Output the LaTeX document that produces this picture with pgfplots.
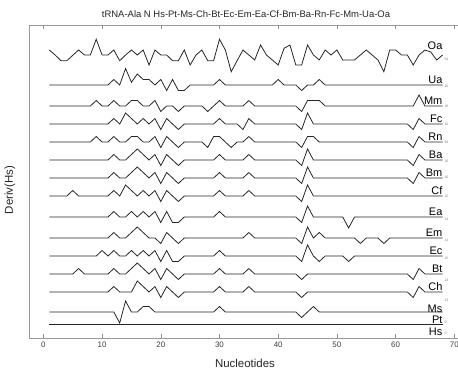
\documentclass[border=0pt]{standalone}
\usepackage{pgfplots}
\pgfplotsset{compat=1.18}
\usepackage{fontspec}
\setmainfont{Liberation Sans}
\newcommand\ser[2]{\addplot[sline] table[row sep=\\, x=n, y expr=#1+5.5*\thisrow{d}] {n d\\ #2};}
\begin{document}
\begin{tikzpicture}[
  sline/.style={black!85, line width=0.8bp},
  lab/.style={anchor=base east, inner sep=0pt, font=\fontsize{11}{12}\selectfont},
  num/.style={anchor=west, inner sep=0pt, font=\fontsize{3.5}{4}\selectfont, text=black!50},
]
\path[use as bounding box] (0,0) rectangle (458bp,369bp);
\begin{axis}[
  at={(29.3bp,31bp)}, anchor=south west,
  x=5.87bp, y=1bp,
  xmin=-2.4, xmax=72, ymin=0, ymax=313,
  axis line style={black!40},
  xtick={0,10,...,70},
  ytick=\empty,
  tick align=inside,
  major tick length=4bp,
  tick style={black!45},
  xticklabel style={font=\fontsize{8}{9}\selectfont, text=black!75},
  /pgf/number format/assume math mode=true,
  clip=false,
]
% Oa (absolute y)
\addplot[sline] table[row sep=\\] {
x y\\
1 288\\ 2 283\\ 3 277.3\\ 4 277.3\\ 5 282.7\\ 6 288\\ 7 283\\ 8 283\\ 9 298.7\\ 10 283\\
11 283\\ 12 288\\ 13 277.3\\ 14 283\\ 15 288\\ 16 283\\ 17 288\\ 18 273\\ 19 288\\ 20 283\\
21 283\\ 22 277.3\\ 23 277.3\\ 24 288\\ 25 273\\ 26 283\\ 27 288\\ 28 277.3\\ 29 277.3\\ 30 298.7\\
31 288\\ 32 266.3\\ 33 277.3\\ 34 288\\ 35 283\\ 36 278\\ 37 293\\ 38 283\\ 39 278\\ 40 273\\
41 289.7\\ 42 293\\ 43 273\\ 44 273\\ 45 293\\ 46 283\\ 47 278\\ 48 288\\ 49 283\\ 50 288\\
51 278\\ 52 278\\ 53 278\\ 54 283\\ 55 288\\ 56 283\\ 57 278\\ 58 266.3\\ 59 288\\ 60 288\\
61 283\\ 62 283\\ 63 273\\ 64 283\\ 65 288\\ 66 286\\ 67 278\\ 68 283\\
};
% Ua
\ser{253}{1 0\\ 11 0\\ 12 1\\ 13 0\\ 14 3\\ 15 0.5\\ 16 2\\ 17 1\\ 18 1\\ 19 0\\ 20 1\\ 21 -1\\ 22 1\\ 23 -1\\ 24 -1\\ 25 0\\ 29 0\\ 30 1\\ 31 0\\ 39 0\\ 40 1\\ 41 0\\ 43 0\\ 44 -1\\ 45 0\\ 46 0\\ 47 1\\ 48 0\\ 68 0\\}
% Mm
\ser{232}{1 0\\ 8 0\\ 9 1\\ 10 0\\ 11 0\\ 12 1\\ 13 0\\ 14 0\\ 15 1\\ 16 1\\ 17 0\\ 18 0\\ 19 1\\ 20 -1\\ 21 0\\ 22 0\\ 23 -1\\ 24 0\\ 27 0\\ 28 -1\\ 29 0\\ 30 1\\ 31 0\\ 34 0\\ 35 1\\ 36 0\\ 43 0\\ 44 -1\\ 45 1\\ 46 1\\ 47 1\\ 48 0\\ 63 0\\ 64 2\\ 65 0\\ 68 0\\}
% Fc
\ser{214}{1 0\\ 11 0\\ 12 1\\ 13 0\\ 14 2\\ 15 1\\ 16 0\\ 17 1\\ 18 0\\ 19 1\\ 20 -1\\ 21 1\\ 22 0\\ 23 -1\\ 24 0\\ 29 0\\ 30 1\\ 31 0\\ 33 0\\ 34 -1\\ 35 1\\ 36 0\\ 43 0\\ 44 -1\\ 45 2\\ 46 0\\ 62 0\\ 63 -1\\ 64 1\\ 65 0\\ 68 0\\}
% Rn
\ser{196}{1 0\\ 8 0\\ 9 1\\ 10 0\\ 11 0\\ 12 1\\ 13 0\\ 14 0\\ 15 1\\ 16 1\\ 17 0\\ 18 0\\ 19 1\\ 20 -1\\ 21 1\\ 22 0\\ 23 -1\\ 24 0\\ 27 0\\ 28 -1\\ 29 1\\ 30 1\\ 31 0\\ 32 -1\\ 33 0\\ 34 0\\ 35 1\\ 36 0\\ 43 0\\ 44 -1\\ 45 1\\ 46 1\\ 47 0\\ 62 0\\ 63 -1\\ 64 1\\ 65 0\\ 68 0\\}
% Ba
\ser{178}{1 0\\ 11 0\\ 12 1\\ 13 0\\ 14 0\\ 15 1\\ 16 2\\ 17 1\\ 18 0\\ 19 1\\ 20 -1\\ 21 1\\ 22 0\\ 23 -1\\ 24 0\\ 29 0\\ 30 1\\ 31 0\\ 34 0\\ 35 1\\ 36 0\\ 43 0\\ 44 -1\\ 45 2\\ 46 0\\ 62 0\\ 63 -1\\ 64 1\\ 65 0\\ 68 0\\}
% Bm
\ser{160}{1 0\\ 11 0\\ 12 1\\ 13 0\\ 14 0\\ 15 1\\ 16 2\\ 17 1\\ 18 0\\ 19 1\\ 20 -1\\ 21 1\\ 22 0\\ 23 -1\\ 24 0\\ 29 0\\ 30 1\\ 31 0\\ 34 0\\ 35 1\\ 36 0\\ 43 0\\ 44 -1\\ 45 2\\ 46 0\\ 62 0\\ 63 -1\\ 64 1\\ 65 0\\ 68 0\\}
% Cf
\ser{142}{1 0\\ 4 0\\ 5 1\\ 6 0\\ 11 0\\ 12 1\\ 13 0\\ 14 2\\ 15 1\\ 16 0\\ 17 1\\ 18 0\\ 19 1\\ 20 -1\\ 21 1\\ 22 0\\ 23 -1\\ 24 0\\ 29 0\\ 30 1\\ 31 0\\ 34 0\\ 35 1\\ 36 0\\ 43 0\\ 44 -1\\ 45 2\\ 46 0\\ 68 0\\}
% Ea
\ser{121}{1 0\\ 11 0\\ 12 1\\ 13 0\\ 14 0\\ 15 1\\ 16 0\\ 17 1\\ 18 0\\ 19 1\\ 20 -1\\ 21 1\\ 22 -1\\ 23 -1\\ 24 0\\ 29 0\\ 30 1\\ 31 0\\ 43 0\\ 44 -1\\ 45 2\\ 46 0\\ 51 0\\ 52 -2\\ 53 0\\ 68 0\\}
% Em
\ser{100}{1 0\\ 11 0\\ 12 1\\ 13 0\\ 14 0\\ 15 1\\ 16 2\\ 17 1\\ 18 0\\ 19 0\\ 20 -1\\ 21 1\\ 22 0\\ 23 -1\\ 24 0\\ 34 0\\ 35 1\\ 36 0\\ 43 0\\ 44 -1\\ 45 2\\ 46 0\\ 47 1\\ 48 0\\ 53 0\\ 54 -1\\ 55 0\\ 57 0\\ 58 -1\\ 59 0\\ 68 0\\}
% Ec
\ser{82}{1 0\\ 9 0\\ 10 1\\ 11 0\\ 12 1\\ 13 0\\ 14 0\\ 15 1\\ 16 0\\ 17 1\\ 18 0\\ 19 1\\ 20 -1\\ 21 1\\ 22 -1\\ 23 -1\\ 24 0\\ 29 0\\ 30 1\\ 31 0\\ 43 0\\ 44 -1\\ 45 2\\ 46 0\\ 47 -1\\ 48 0\\ 51 0\\ 52 -1\\ 53 0\\ 68 0\\}
% Bt
\ser{64}{1 0\\ 5 0\\ 6 1\\ 7 0\\ 11 0\\ 12 1\\ 13 0\\ 14 0\\ 15 1\\ 16 2\\ 17 1\\ 18 0\\ 19 1\\ 20 -1\\ 21 1\\ 22 0\\ 23 -1\\ 24 0\\ 29 0\\ 30 1\\ 31 0\\ 34 0\\ 35 1\\ 36 0\\ 43 0\\ 44 -1\\ 45 0\\ 62 0\\ 63 -1\\ 64 1\\ 65 0\\ 68 0\\}
% Ch
\ser{46}{1 0\\ 11 0\\ 12 1\\ 13 0\\ 15 0\\ 16 2\\ 17 1\\ 18 0\\ 19 1\\ 20 -1\\ 21 1\\ 22 0\\ 23 -1\\ 24 0\\ 29 0\\ 30 1\\ 31 0\\ 34 0\\ 35 1\\ 36 0\\ 43 0\\ 44 -1\\ 45 0\\ 62 0\\ 63 -1\\ 64 1\\ 65 0\\ 68 0\\}
% Ms
\ser{26}{1 0\\ 12 0\\ 13 -2\\ 14 2\\ 15 0\\ 16 0\\ 17 1\\ 18 1\\ 19 0\\ 29 0\\ 30 1\\ 31 0\\ 43 0\\ 44 -1\\ 45 0\\ 46 1\\ 47 0\\ 68 0\\}
% Pt
\ser{13.7}{1 0\\ 68 0\\}
% Hs (identical to Pt, drawn on the same level)
\ser{13.7}{1 0\\ 68 0\\}
% labels
\node[lab] at (axis cs:68,289) {Oa};
\node[lab] at (axis cs:68,254.5) {Ua};
\node[lab] at (axis cs:68,233.5) {Mm};
\node[lab] at (axis cs:68,215.5) {Fc};
\node[lab] at (axis cs:68,197.5) {Rn};
\node[lab] at (axis cs:68,179.5) {Ba};
\node[lab] at (axis cs:68,161.5) {Bm};
\node[lab] at (axis cs:68,143.5) {Cf};
\node[lab] at (axis cs:68,122.5) {Ea};
\node[lab] at (axis cs:68,101.5) {Em};
\node[lab] at (axis cs:68,83.5) {Ec};
\node[lab] at (axis cs:68,65.5) {Bt};
\node[lab] at (axis cs:68,47.5) {Ch};
\node[lab] at (axis cs:68,26) {Ms};
\node[lab] at (axis cs:68,15) {Pt};
\node[lab] at (axis cs:68,2.5) {Hs};
% difference counts
\node[num] at (axis cs:68.3,279) {64};
\node[num] at (axis cs:68.3,251.3) {16};
\node[num] at (axis cs:68.3,231.3) {16};
\node[num] at (axis cs:68.3,214) {16};
\node[num] at (axis cs:68.3,196) {20};
\node[num] at (axis cs:68.3,176.3) {16};
\node[num] at (axis cs:68.3,160.3) {16};
\node[num] at (axis cs:68.3,141.3) {15};
\node[num] at (axis cs:68.3,119) {14};
\node[num] at (axis cs:68.3,98) {14};
\node[num] at (axis cs:68.3,80) {15};
\node[num] at (axis cs:68.3,57.3) {13};
\node[num] at (axis cs:68.3,38) {13};
\node[num] at (axis cs:68.3,15.3) {9};
\node[num] at (axis cs:68.3,5) {0};
\end{axis}
\node[font=\fontsize{9.5}{11}\selectfont, text=black!85] at (246bp,355bp) {tRNA-Ala N Hs-Pt-Ms-Ch-Bt-Ec-Em-Ea-Cf-Bm-Ba-Rn-Fc-Mm-Ua-Oa};
\node[font=\fontsize{11.5}{13}\selectfont, text=black!85] at (245bp,6bp) {Nucleotides};
\node[font=\fontsize{11.5}{13}\selectfont, text=black!85, rotate=90] at (10bp,179bp) {Deriv(Hs)};
\end{tikzpicture}
\end{document}
